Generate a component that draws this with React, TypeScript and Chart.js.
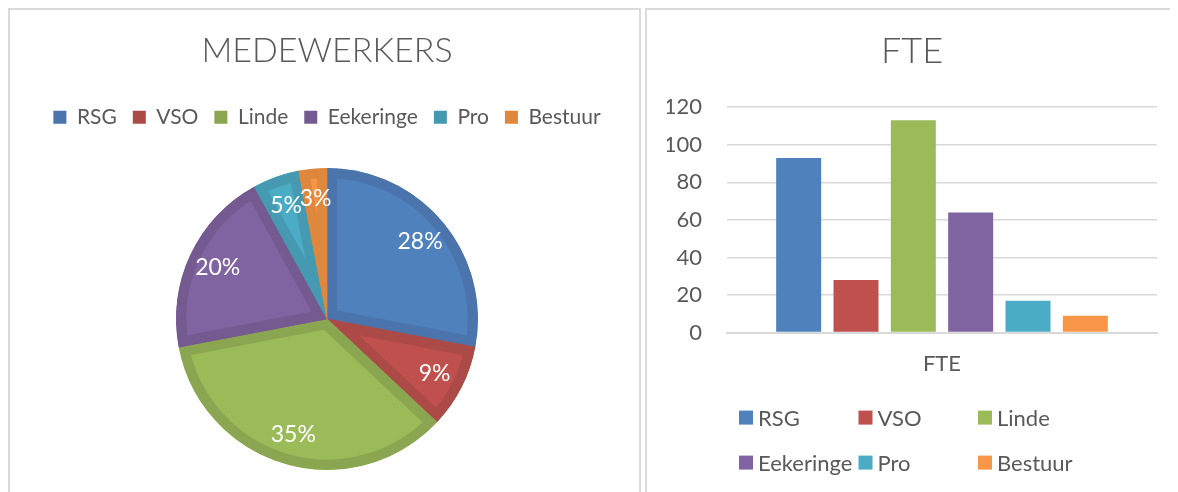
import React, { useEffect, useRef } from "react";
import { Chart, registerables } from "chart.js";

Chart.register(...registerables);

// ---- data ----
const categories = ["RSG", "VSO", "Linde", "Eekeringe", "Pro", "Bestuur"];
const medewerkersPct = [28, 9, 35, 20, 5, 3];
const fteCategory = ["FTE"];
const fteValues = [93, 28, 113, 64, 17, 9];
const yMin = 0;
const yMax = 120;
const yStep = 20;

const fillColors = ["#4F81BD", "#C0504D", "#9BBB59", "#8064A2", "#4BACC6", "#F79646"];
const edgeColors = ["#4A74AB", "#AB4A47", "#8BA651", "#745A90", "#4599B1", "#E0873E"];

const TEXT = "#595959";
const FONT = "Lato, 'Open Sans', sans-serif";

const pieLabelPlugin = {
  id: "pieLabels",
  afterDatasetsDraw(chart: any) {
    const ctx = chart.ctx;
    const meta = chart.getDatasetMeta(0);
    const values = chart.data.datasets[0].data as number[];
    const total = values.reduce((a, b) => a + b, 0);
    ctx.save();
    ctx.font = `23px ${FONT}`;
    ctx.fillStyle = "#FFFFFF";
    ctx.textAlign = "center";
    ctx.textBaseline = "middle";
    meta.data.forEach((arc: any, i: number) => {
      const p = arc.getProps(["x", "y", "startAngle", "endAngle", "outerRadius"], true);
      const mid = (p.startAngle + p.endAngle) / 2;
      const r = p.outerRadius * 0.8;
      const pct = Math.round((values[i] / total) * 100);
      ctx.fillText(pct + "%", p.x + Math.cos(mid) * r, p.y + Math.sin(mid) * r);
    });
    ctx.restore();
  },
};

const barLegendPlugin = {
  id: "barLegend",
  afterDraw(chart: any) {
    const { ctx, chartArea } = chart;
    ctx.save();
    ctx.font = `22px ${FONT}`;
    ctx.textBaseline = "middle";
    ctx.textAlign = "left";
    chart.data.datasets.forEach((ds: any, i: number) => {
      const col = i % 3;
      const row = Math.floor(i / 3);
      const x = chartArea.left + 12 + col * 119.5;
      const y = chartArea.bottom + 85 + row * 45;
      ctx.fillStyle = ds.backgroundColor;
      ctx.fillRect(x, y - 7, 14, 14);
      ctx.fillStyle = TEXT;
      ctx.fillText(ds.label, x + 19, y + 1);
    });
    ctx.restore();
  },
};

export default function App() {
  const pieRef = useRef<HTMLCanvasElement>(null);
  const barRef = useRef<HTMLCanvasElement>(null);

  useEffect(() => {
    const pie = new Chart(pieRef.current!, {
      type: "pie",
      data: {
        labels: categories,
        datasets: [
          {
            data: medewerkersPct,
            backgroundColor: fillColors,
            borderColor: edgeColors,
            borderWidth: 10,
            borderAlign: "inner",
            borderJoinStyle: "miter",
          } as any,
        ],
      },
      options: {
        responsive: false,
        animation: false,
        events: [],
        radius: 151,
        layout: { padding: { left: 5, right: 0, top: 0, bottom: 70 } },
        plugins: {
          tooltip: { enabled: false },
          title: {
            display: true,
            text: "MEDEWERKERS",
            color: TEXT,
            font: { family: FONT, size: 34, weight: "300" as any },
            padding: { top: 21, bottom: 19 },
          },
          legend: {
            display: true,
            position: "top",
            labels: {
              color: TEXT,
              font: { family: FONT, size: 21 },
              boxWidth: 13,
              boxHeight: 13,
              padding: 16,
              generateLabels: () =>
                categories.map((c, i) => ({
                  text: c,
                  fillStyle: edgeColors[i],
                  strokeStyle: edgeColors[i],
                  lineWidth: 0,
                  hidden: false,
                  index: i,
                  fontColor: TEXT,
                })),
            },
          },
        },
      } as any,
      plugins: [pieLabelPlugin],
    });

    const bar = new Chart(barRef.current!, {
      type: "bar",
      data: {
        labels: fteCategory,
        datasets: categories.map((c, i) => ({
          label: c,
          data: [fteValues[i]],
          backgroundColor: fillColors[i],
          borderWidth: 0,
          categoryPercentage: 0.8,
          barPercentage: 0.785,
        })),
      },
      options: {
        responsive: false,
        animation: false,
        events: [],
        layout: { padding: { left: 20, right: 21, top: 0, bottom: 97 } },
        plugins: {
          tooltip: { enabled: false },
          legend: { display: false },
          title: {
            display: true,
            text: "FTE",
            color: TEXT,
            font: { family: FONT, size: 36, weight: "300" as any },
            padding: { top: 20, bottom: 34 },
          },
        },
        scales: {
          x: {
            grid: { display: false, drawTicks: false },
            border: { display: true, color: "#D9D9D9", width: 2 },
            ticks: { color: TEXT, font: { family: FONT, size: 22 }, padding: 18 },
          },
          y: {
            min: yMin,
            max: yMax,
            grid: { color: "#D9D9D9", lineWidth: 1.5, drawTicks: false },
            border: { display: false },
            ticks: {
              stepSize: yStep,
              color: TEXT,
              font: { family: FONT, size: 22 },
              padding: 25,
            },
            afterFit: (scale: any) => {
              scale.width = 60;
            },
          },
        },
      },
      plugins: [barLegendPlugin],
    });

    return () => {
      pie.destroy();
      bar.destroy();
    };
  }, []);

  return (
    <div style={{ position: "relative", width: 1170, height: 484, overflow: "hidden" }}>
      <style>{"body{overflow:hidden;}"}</style>
      <div
        style={{
          position: "absolute",
          left: 0,
          top: 0,
          width: 629,
          height: 600,
          border: "2px solid #DADADA",
          background: "#fff",
        }}
      >
        <canvas ref={pieRef} width={629} height={560} style={{ display: "block" }} />
      </div>
      <div
        style={{
          position: "absolute",
          left: 637,
          top: 0,
          width: 540,
          height: 600,
          border: "2px solid #DADADA",
          background: "#fff",
        }}
      >
        <canvas ref={barRef} width={531} height={482} style={{ display: "block" }} />
      </div>
    </div>
  );
}
